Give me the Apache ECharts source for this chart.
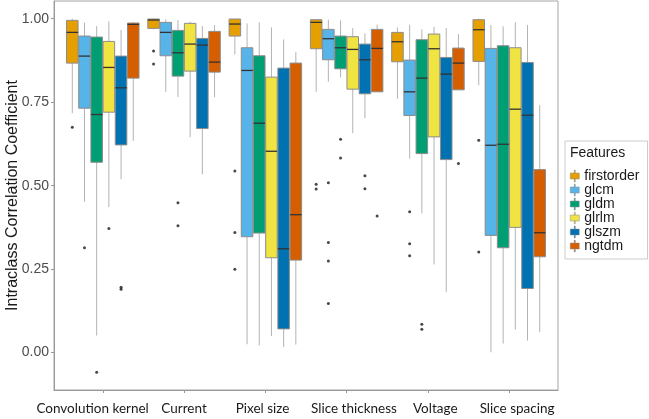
<!DOCTYPE html>
<html>
<head>
<meta charset="utf-8">
<script src="https://cdn.jsdelivr.net/npm/echarts@6/dist/echarts.min.js"></script>
<style>
html,body{margin:0;padding:0;background:#fff;}
#chart{width:649px;height:419px;}
</style>
</head>
<body>
<div id="chart"></div>
<script>
// ---------- data ----------
const categories = ['Convolution kernel', 'Current', 'Pixel size', 'Slice thickness', 'Voltage', 'Slice spacing'];
const features = ['firstorder', 'glcm', 'gldm', 'glrlm', 'glszm', 'ngtdm'];
const yTicks = [0, 0.25, 0.5, 0.75, 1];

// [lower whisker, Q1, median, Q3, upper whisker] per category
const firstorderStats = [
  [0.717, 0.867, 0.959, 0.995, 1.000],
  [0.968, 0.971, 0.996, 0.999, 1.000],
  [0.893, 0.948, 0.984, 0.999, 1.000],
  [0.781, 0.910, 0.989, 0.997, 0.999],
  [0.760, 0.871, 0.931, 0.959, 0.974],
  [0.801, 0.872, 0.967, 0.997, 1.000]
];
const glcmStats = [
  [0.452, 0.732, 0.888, 0.948, 0.988],
  [0.781, 0.889, 0.959, 0.989, 0.998],
  [0.025, 0.347, 0.845, 0.913, 0.986],
  [0.811, 0.877, 0.940, 0.968, 0.997],
  [0.581, 0.710, 0.781, 0.876, 0.982],
  [0.001, 0.351, 0.621, 0.911, 0.981]
];
const gldmStats = [
  [0.051, 0.570, 0.713, 0.945, 0.978],
  [0.766, 0.828, 0.898, 0.965, 0.996],
  [0.022, 0.358, 0.687, 0.889, 0.989],
  [0.824, 0.850, 0.913, 0.948, 0.995],
  [0.417, 0.596, 0.822, 0.937, 0.968],
  [0.027, 0.314, 0.624, 0.919, 0.977]
];
const glrlmStats = [
  [0.436, 0.720, 0.854, 0.932, 0.992],
  [0.645, 0.843, 0.924, 0.986, 0.991],
  [0.050, 0.284, 0.603, 0.825, 0.974],
  [0.657, 0.789, 0.908, 0.946, 0.972],
  [0.264, 0.646, 0.910, 0.954, 0.976],
  [0.069, 0.375, 0.729, 0.913, 0.989]
];
const glszmStats = [
  [0.519, 0.622, 0.793, 0.888, 0.966],
  [0.534, 0.671, 0.921, 0.941, 0.978],
  [0.017, 0.071, 0.311, 0.852, 0.938],
  [0.702, 0.775, 0.877, 0.924, 0.956],
  [0.181, 0.578, 0.834, 0.884, 0.972],
  [0.036, 0.192, 0.711, 0.869, 0.981]
];
const ngtdmStats = [
  [0.634, 0.822, 0.983, 0.987, 0.990],
  [0.765, 0.840, 0.870, 0.962, 0.981],
  [0.024, 0.277, 0.413, 0.867, 0.900],
  [0.781, 0.781, 0.911, 0.968, 0.982],
  [0.787, 0.787, 0.867, 0.912, 0.954],
  [0.061, 0.287, 0.359, 0.548, 0.741]
];

// outliers: [category index, value]
const firstorderOut = [[0, 0.675], [1, 0.903], [1, 0.864], [2, 0.544], [2, 0.360], [2, 0.250], [3, 0.504], [3, 0.490], [5, 0.636], [5, 0.301]];
const glcmOut = [[0, 0.314], [3, 0.509], [3, 0.330], [3, 0.274], [3, 0.147], [4, 0.422], [4, 0.326], [4, 0.290]];
const gldmOut = [[0, -0.059], [1, 0.449], [1, 0.380], [3, 0.639], [3, 0.583], [4, 0.085], [4, 0.070]];
const glrlmOut = [[0, 0.372]];
const glszmOut = [[0, 0.196], [0, 0.190], [3, 0.530], [3, 0.491]];
const ngtdmOut = [[3, 0.409], [4, 0.566]];

// ---------- styling / layout ----------
const colors = ['#E69F00', '#56B4E9', '#009E73', '#F0E442', '#0072B2', '#D55E00'];
// label offsets from category centre, in category units
const labelShift = [-0.125, 0, -0.035, 0.09, 0.09, 0.097];
const dodge = 0.15;
const boxWidth = 0.142;

const statsByFeature = [firstorderStats, glcmStats, gldmStats, glrlmStats, glszmStats, ngtdmStats];
const outByFeature = [firstorderOut, glcmOut, gldmOut, glrlmOut, glszmOut, ngtdmOut];

function renderBox(params, api) {
  const x = api.value(0);
  const lo = api.coord([x, api.value(1)]);
  const q1 = api.coord([x, api.value(2)]);
  const md = api.coord([x, api.value(3)]);
  const q3 = api.coord([x, api.value(4)]);
  const hi = api.coord([x, api.value(5)]);
  const w = api.size([boxWidth, 0])[0];
  const cx = lo[0];
  const fill = api.visual('color');
  const wh = {stroke: '#b3b3b3', lineWidth: 1};
  return {
    type: 'group',
    children: [
      {type: 'line', shape: {x1: cx, y1: q3[1], x2: cx, y2: hi[1]}, style: wh},
      {type: 'line', shape: {x1: cx, y1: q1[1], x2: cx, y2: lo[1]}, style: wh},
      {type: 'rect', shape: {x: cx - w / 2, y: q3[1], width: w, height: q1[1] - q3[1]},
        style: {fill: fill, stroke: '#8c8c8c', lineWidth: 1}},
      {type: 'line', shape: {x1: cx - w / 2, y1: md[1], x2: cx + w / 2, y2: md[1]},
        style: {stroke: '#333333', lineWidth: 1.3}}
    ]
  };
}

const series = features.map((f, j) => ({
  type: 'custom',
  name: f,
  itemStyle: {color: colors[j]},
  renderItem: renderBox,
  encode: {x: 0, y: [1, 2, 3, 4, 5]},
  data: statsByFeature[j].map((s, i) => [i + 1 + (j - 2.5) * dodge].concat(s)),
  z: 2
}));

const outlierData = [];
outByFeature.forEach((arr, j) => {
  arr.forEach(p => outlierData.push([p[0] + 1 + (j - 2.5) * dodge, p[1]]));
});
series.push({
  type: 'scatter',
  name: 'outliers',
  data: outlierData,
  symbolSize: 3,
  itemStyle: {color: '#1a1a1a'},
  z: 3,
  silent: true
});

const catPositions = categories.map((c, i) => i + 1);
const labelPositions = categories.map((c, i) => i + 1 + labelShift[i]);

const chart = echarts.init(document.getElementById('chart'), null, {renderer: 'canvas'});
chart.setOption({
  animation: false,
  backgroundColor: '#ffffff',
  title: {
    text: 'Features',
    left: 570,
    top: 146,
    padding: 0,
    textStyle: {fontFamily: 'Liberation Sans', fontSize: 14, fontWeight: 'normal', color: '#1a1a1a'}
  },
  legend: {
    data: features,
    orient: 'vertical',
    left: 565,
    top: 141,
    padding: [28, 8, 6, 5],
    itemGap: 0,
    itemWidth: 9,
    itemHeight: 12,
    borderColor: '#cccccc',
    borderWidth: 1,
    icon: 'path://M4,0h1v3h-1z M0,3h9v6h-9z M4,9h1v3h-1z',
    itemStyle: {borderColor: '#8c8c8c', borderWidth: 0.5},
    textStyle: {fontFamily: 'Liberation Sans', fontSize: 14, lineHeight: 12, color: '#1a1a1a'},
    selectedMode: false
  },
  grid: {
    left: 54, top: 1, right: 91, bottom: 29,
    containLabel: false,
    outerBoundsMode: 'none',
    show: true, borderColor: '#a6a6a6', borderWidth: 1
  },
  xAxis: {
    type: 'value',
    min: 0.4,
    max: 6.6,
    axisLine: {show: true, onZero: false, lineStyle: {color: '#999999'}},
    axisTick: {show: true, customValues: catPositions, length: 3, lineStyle: {color: '#999999'}},
    axisLabel: {
      customValues: labelPositions,
      margin: 12,
      hideOverlap: false,
      showMinLabel: true,
      showMaxLabel: true,
      formatter: v => categories[Math.round(v) - 1],
      fontFamily: 'Lato',
      fontSize: 13.5,
      color: '#1a1a1a'
    },
    splitLine: {show: false}
  },
  yAxis: {
    type: 'value',
    min: -0.112,
    max: 1.053,
    name: 'Intraclass Correlation Coefficient',
    nameLocation: 'middle',
    nameGap: 33,
    nameMoveOverlap: false,
    nameTextStyle: {fontFamily: 'Liberation Sans', fontSize: 16, color: '#1a1a1a'},
    axisLine: {show: true, onZero: false, lineStyle: {color: '#999999'}},
    axisTick: {show: true, customValues: yTicks, length: 3, lineStyle: {color: '#999999'}},
    axisLabel: {
      customValues: yTicks,
      margin: 5,
      formatter: v => v.toFixed(2),
      fontFamily: 'Liberation Sans',
      fontSize: 14,
      color: '#4d4d4d'
    },
    splitLine: {show: false}
  },
  series: series
});
</script>
</body>
</html>
